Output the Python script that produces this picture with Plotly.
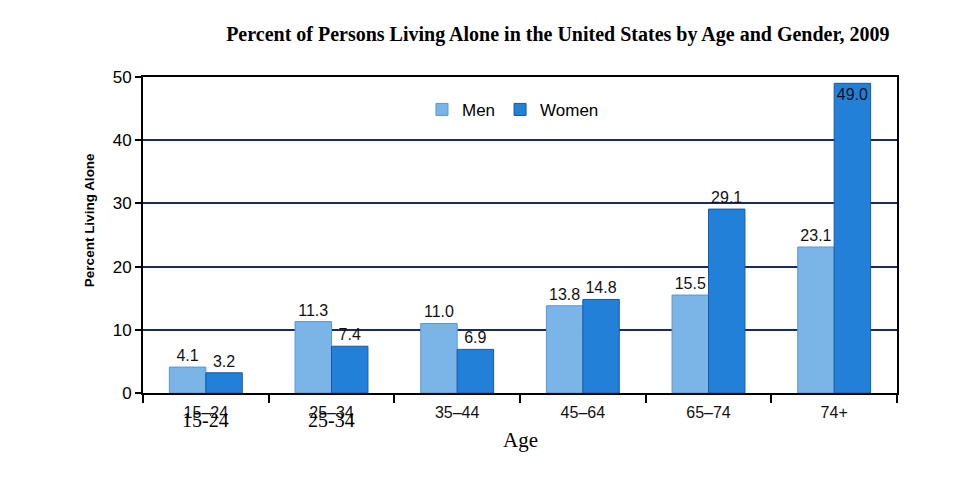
import plotly.graph_objects as go

# Data
ages = ["15–24", "25–34", "35–44", "45–64", "65–74", "74+"]
men = [4.1, 11.3, 11.0, 13.8, 15.5, 23.1]
women = [3.2, 7.4, 6.9, 14.8, 29.1, 49.0]
y_ticks = [0, 10, 20, 30, 40, 50]

men_color = "#7bb5e8"
women_color = "#2280d8"
grid_color = "#1c2b5e"
label_font = dict(family="Arial", size=16, color="#111111")

fig = go.Figure()
fig.add_trace(go.Bar(
    x=ages, y=men, name="Men",
    marker=dict(color=men_color, line=dict(color="#5a96d0", width=1)),
    text=[f"{v:.1f}" for v in men], textposition="outside",
    textfont=label_font, textangle=0,
    cliponaxis=False,
))
fig.add_trace(go.Bar(
    x=ages, y=women, name="Women",
    marker=dict(color=women_color, line=dict(color="#1659a8", width=1)),
    text=[f"{v:.1f}" for v in women],
    textposition=["outside"] * 5 + ["inside"],
    insidetextanchor="end", textangle=0,
    textfont=label_font,
    insidetextfont=label_font,
    cliponaxis=False,
))

fig.update_layout(
    width=968, height=483,
    margin=dict(l=135, r=79, t=69, b=98),
    paper_bgcolor="white", plot_bgcolor="white",
    barmode="group", bargap=0.42, bargroupgap=0,
    title=dict(
        text="<b>Percent of Persons Living Alone in the United States by Age and Gender, 2009</b>",
        x=0.568, xanchor="center", y=0.946, yanchor="middle",
        font=dict(family="Liberation Serif", size=20, color="black"),
    ),
    legend=dict(
        orientation="h", x=0.37, y=0.896, xanchor="left", yanchor="middle",
        font=dict(family="Arial", size=17, color="black"),
        bgcolor="rgba(0,0,0,0)", itemwidth=30,
    ),
    showlegend=True,
    uniformtext=dict(minsize=16, mode="show"),
)

fig.update_xaxes(
    type="category", tickson="boundaries",
    ticks="outside", ticklen=8, tickwidth=2, tickcolor="black",
    showline=True, linecolor="black", linewidth=2, mirror=True,
    tickfont=dict(family="Arial", size=16, color="#111111"),
    ticklabelstandoff=4,
    showgrid=False,
)
fig.update_yaxes(
    range=[0, 50], tickvals=y_ticks,
    ticks="outside", ticklen=6, tickwidth=2, tickcolor="black",
    showline=True, linecolor="black", linewidth=2, mirror=True,
    showgrid=True, gridcolor=grid_color, gridwidth=2,
    tickfont=dict(family="Arial", size=17, color="#000000"),
    zeroline=False,
)

# axis titles
fig.add_annotation(
    xref="paper", yref="paper", x=0, y=0.547, xshift=-54,
    xanchor="center", yanchor="middle",
    text="<b>Percent Living Alone</b>", textangle=-90, showarrow=False,
    font=dict(family="Arial", size=13.5, color="black"),
)
fig.add_annotation(
    xref="paper", yref="paper", x=0.5, y=0, yshift=-47,
    xanchor="center", yanchor="middle",
    text="Age", showarrow=False,
    font=dict(family="Liberation Serif", size=21, color="black"),
)

# serif labels overlaid under the first two categories
for lab, cat in [("15-24", ages[0]), ("25-34", ages[1])]:
    fig.add_annotation(
        x=cat, y=0, xref="x", yref="y", yshift=-27, yanchor="middle",
        text=lab, showarrow=False,
        font=dict(family="Liberation Serif", size=20, color="black"),
    )

fig.write_html("out.html")
